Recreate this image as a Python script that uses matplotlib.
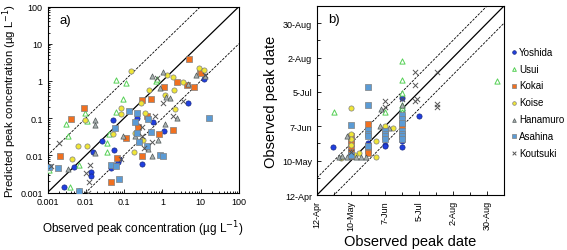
import numpy as np
import matplotlib
matplotlib.use("Agg")
import matplotlib.pyplot as plt
from matplotlib.ticker import LogLocator, NullFormatter, FixedLocator

plt.rcParams['font.family'] = ['Liberation Sans', 'DejaVu Sans']

# --- a) log10 (observed, predicted) peak concentration, ug/L ---
yoshida_a = [(-2.57, -2.84), (-2.17, -2.96), (-2.30, -2.32), (-1.81, -1.92), (-1.59, -1.62),
             (-1.87, -2.45), (-1.86, -2.55), (-1.33, -2.34), (-1.27, -1.85), (-1.28, -1.05),
             (-1.15, -2.18), (-0.67, -1.00), (-0.54, -2.22), (-0.24, -1.10), (0.04, -1.35),
             (0.67, -0.60), (1.08, 0.04), (-1.14, -2.09), (-0.63, -1.21)]
usui_a = [(-2.97, -2.39), (-2.53, -1.17), (-2.46, -1.49), (-2.40, -2.85), (-2.03, -0.85),
          (-1.96, -1.08), (-2.18, -2.26), (-1.44, -1.92), (-1.45, -1.67), (-1.39, -1.44),
          (-1.21, 0.03), (-0.95, -0.06), (-1.21, -0.83), (-1.04, -0.49), (-0.17, -0.01),
          (-0.15, 0.05)]
kokai_a = [(-2.05, -0.72), (-2.38, -1.03), (-2.68, -2.01), (-1.34, -2.71), (-1.18, -2.07),
           (-0.52, -0.51), (-0.31, -0.49), (-0.63, -1.23), (-0.95, -1.53), (-0.53, -2.03),
           (0.04, -0.15), (0.37, -0.03), (0.64, -0.10), (0.70, 0.60), (0.98, 0.26),
           (0.82, -0.15), (0.27, -1.32), (-0.10, -1.44), (-0.40, -0.95), (1.02, 0.20)]
koise_a = [(-0.83, 0.28), (-2.35, -2.10), (-2.20, -1.75), (-2.01, -1.06), (-1.96, -1.75),
           (-1.09, -0.74), (-1.07, -0.90), (-1.30, -1.44), (-0.72, -1.39), (-0.73, -1.91),
           (-0.57, -0.58), (-0.45, -0.85), (-0.34, -0.24), (0.11, 0.17), (0.07, -0.38),
           (0.28, 0.10), (0.30, -0.24), (0.53, -0.02), (0.96, 0.35), (1.09, 0.30),
           (0.34, -0.76), (-0.50, -1.60)]
hanamuro_a = [(-2.46, -2.38), (-1.76, -1.05), (-1.75, -1.19), (-1.77, -1.94), (-1.02, -1.48),
              (-0.27, 0.12), (0.02, 0.24), (-0.06, -0.20), (0.09, -0.42), (0.20, -0.45),
              (0.39, -0.99), (0.67, -0.08), (0.89, 0.15), (1.10, 0.12), (-0.37, -1.84),
              (-0.26, -2.03), (-0.72, -1.49), (-0.11, -1.58), (0.06, -1.15)]
asahina_a = [(-2.96, -2.31), (-2.72, -2.34), (-2.19, -2.96), (-1.25, -1.26), (-1.33, -2.25),
             (-1.20, -2.28), (-1.13, -2.64), (-0.87, -0.81), (-0.72, -1.10), (-0.67, -0.87),
             (-0.66, -1.39), (-0.60, -1.64), (-0.41, -1.75), (-0.38, -1.03), (-0.29, -1.37),
             (-0.06, -1.98), (0.01, -2.03), (1.21, -0.99)]
koutsuki_a = [(-2.70, -1.67), (-2.92, -2.28), (-1.89, -2.27), (-1.91, -2.73), (-2.00, -2.48),
              (-1.94, -3.00), (-1.07, -2.10), (-0.54, -1.23), (-0.52, -1.48), (-0.48, -1.80),
              (-0.19, -0.94), (-0.28, -1.64), (-0.15, 0.08), (0.02, -0.60), (0.53, -0.54),
              (0.27, -0.94), (1.10, 0.17)]

# --- b) (observed, predicted) peak date, days after 12-Apr ---
yoshida_b = [(13, 39), (42, 42), (42, 41), (56, 41), (56, 40), (70, 39), (70, 44),
             (70, 69), (70, 79), (84, 64), (42, 38)]
usui_b = [(14, 68), (70, 109), (70, 94), (70, 83), (56, 68), (70, 71), (70, 73),
          (148, 93), (70, 68)]
kokai_b = [(28, 48), (28, 45), (28, 42), (28, 38), (28, 35), (28, 32), (42, 58),
           (42, 40), (42, 37), (42, 34), (70, 57)]
koise_b = [(28, 71), (28, 50), (28, 46), (28, 41), (35, 34), (49, 44), (49, 31),
           (56, 56), (63, 55), (20, 30), (31, 33)]
hanamuro_b = [(18, 31), (21, 32), (25, 31), (28, 32), (32, 31), (36, 31), (40, 31),
              (25, 48), (28, 35), (53, 70), (59, 55), (52, 56), (70, 73)]
asahina_b = [(28, 57), (42, 88), (42, 73), (42, 53), (42, 50), (42, 48), (42, 40),
             (56, 52), (56, 50), (56, 48), (56, 46), (70, 65), (70, 62), (70, 59),
             (70, 52), (70, 50), (70, 48), (70, 46), (28, 33)]
koutsuki_b = [(81, 100), (81, 90), (81, 77), (99, 100), (99, 74), (99, 72), (56, 77),
              (56, 72), (28, 35), (70, 78), (82, 78)]

date_ticks = [0, 28, 56, 84, 112, 140]
date_labels = ["12-Apr", "10-May", "7-Jun", "5-Jul", "2-Aug", "30-Aug"]
names = ["Yoshida", "Usui", "Kokai", "Koise", "Hanamuro", "Asahina", "Koutsuki"]

styles = {
    "Yoshida": dict(marker='o', c='#1f3ee0', edgecolors='#1a2a80', linewidths=0.5),
    "Usui": dict(marker='^', c='white', edgecolors='#55d055', linewidths=0.7),
    "Kokai": dict(marker='s', c='#f07020', edgecolors='#808080', linewidths=0.5),
    "Koise": dict(marker='o', c='#f0e636', edgecolors='#808080', linewidths=0.5),
    "Hanamuro": dict(marker='^', c='#a8b0b0', edgecolors='#505858', linewidths=0.5),
    "Asahina": dict(marker='s', c='#5b9bd5', edgecolors='#808080', linewidths=0.5),
    "Koutsuki": dict(marker='x', c='#555555', linewidths=0.7),
}

data_a = [yoshida_a, usui_a, kokai_a, koise_a, hanamuro_a, asahina_a, koutsuki_a]
data_b = [yoshida_b, usui_b, kokai_b, koise_b, hanamuro_b, asahina_b, koutsuki_b]

fig = plt.figure(figsize=(5.67, 2.51), dpi=100)
ax1 = fig.add_axes([0.0838, 0.229, 0.3377, 0.741])
ax2 = fig.add_axes([0.559, 0.219, 0.3298, 0.753])

# panel a
lims = np.array([1e-3, 1e2])
ax1.plot(lims, lims, color='k', lw=0.9, zorder=1)
ax1.plot(lims, lims * 10, color='k', lw=0.6, ls=(0, (3, 1.5)), zorder=1)
ax1.plot(lims, lims / 10, color='k', lw=0.6, ls=(0, (3, 1.5)), zorder=1)
for name, pts in zip(names, data_a):
    p = 10 ** np.array(pts)
    ax1.scatter(p[:, 0], p[:, 1], s=14, zorder=3, **styles[name])
ax1.set_xscale('log')
ax1.set_yscale('log')
ax1.set_xlim(lims)
ax1.set_ylim(lims)
ticks = [0.001, 0.01, 0.1, 1, 10, 100]
tl = ["0.001", "0.01", "0.1", "1", "10", "100"]
ax1.set_xticks(ticks, tl)
ax1.set_yticks(ticks, tl)
ax1.xaxis.set_minor_locator(LogLocator(subs=np.arange(2, 10)))
ax1.yaxis.set_minor_locator(LogLocator(subs=np.arange(2, 10)))
ax1.xaxis.set_minor_formatter(NullFormatter())
ax1.yaxis.set_minor_formatter(NullFormatter())
ax1.tick_params(which='both', direction='in', labelsize=6.5, width=0.6, top=False, right=False)
ax1.tick_params(which='major', length=3)
ax1.tick_params(which='minor', length=1.5)
ax1.set_xlabel("Observed peak concentration (µg L$^{-1}$)", fontsize=8.5, labelpad=9)
ax1.set_ylabel("Predicted peak concentration (µg L$^{-1}$)", fontsize=8.2, labelpad=1)
ax1.text(0.06, 0.93, "a)", transform=ax1.transAxes, fontsize=9.5, va='center')

# panel b
dl = np.array([0, 154])
ax2.plot(dl, dl, color='k', lw=0.9, zorder=1)
ax2.plot(dl, dl + 14, color='k', lw=0.6, ls=(0, (3, 1.5)), zorder=1)
ax2.plot(dl, dl - 14, color='k', lw=0.6, ls=(0, (3, 1.5)), zorder=1)
for name, pts in zip(names, data_b):
    p = np.array(pts, dtype=float)
    ax2.scatter(p[:, 0], p[:, 1], s=14, zorder=3, label=name, **styles[name])
ax2.set_xlim(dl)
ax2.set_ylim(dl)
ax2.set_xticks(date_ticks, date_labels, rotation=90)
ax2.set_yticks(date_ticks, date_labels)
ax2.xaxis.set_minor_locator(FixedLocator([14, 42, 70, 98, 126]))
ax2.yaxis.set_minor_locator(FixedLocator([14, 42, 70, 98, 126]))
ax2.tick_params(which='both', direction='in', labelsize=6.5, width=0.6)
ax2.tick_params(which='major', length=3)
ax2.tick_params(which='minor', length=2)
ax2.set_xlabel("Observed peak date", fontsize=10.5, labelpad=3)
ax2.set_ylabel("Observed peak date", fontsize=10.5, labelpad=3)
ax2.text(0.06, 0.93, "b)", transform=ax2.transAxes, fontsize=9.5, va='center')
for ax in (ax1, ax2):
    for s in ax.spines.values():
        s.set_linewidth(0.8)

ax2.legend(loc='upper left', bbox_to_anchor=(0.99, 0.82), frameon=False, fontsize=7,
           handletextpad=0.05, labelspacing=0.7, markerscale=0.7, borderaxespad=0.3,
           handlelength=1.0)

fig.savefig("out.png", dpi=100)
